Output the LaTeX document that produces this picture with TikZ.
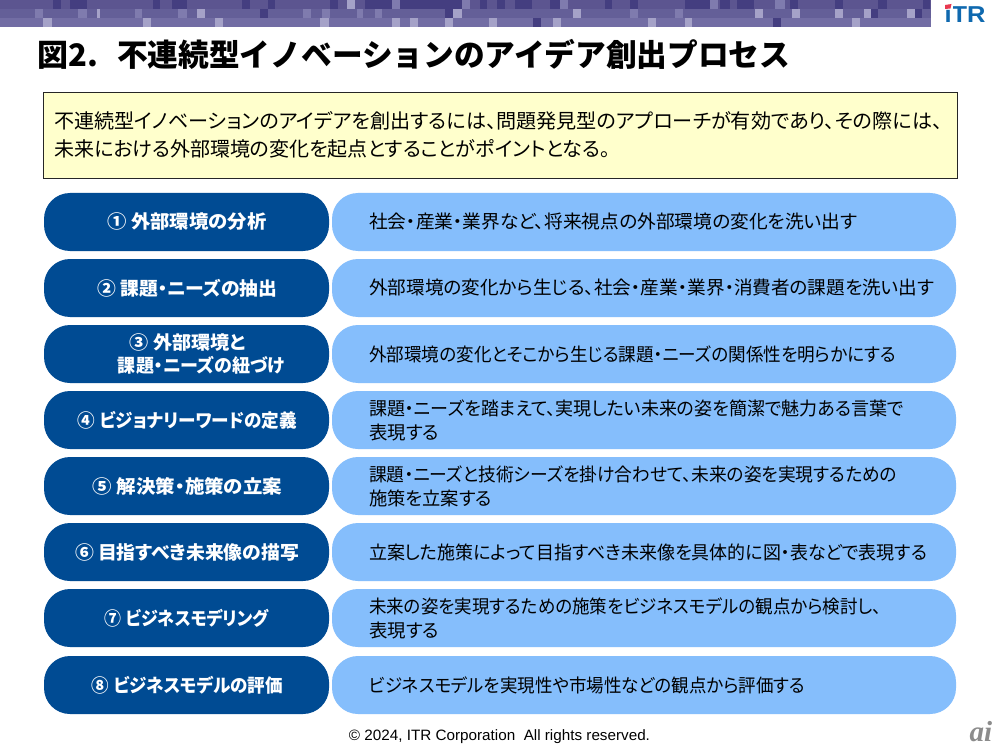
\documentclass[tikz,border=0pt]{standalone}
\usepackage{fontspec}
\usepackage{graphicx}
\setmainfont[RawFeature=+palt]{Noto Sans CJK JP}
\newfontfamily\titlefont{Noto Sans CJK JP}
\newfontfamily\latinfont{Liberation Sans}
\newfontfamily\serifont{Liberation Serif}
\newcommand{\fitw}[2]{\resizebox{#1pt}{\height}{#2}}
\definecolor{bannertop}{HTML}{5C5590}
\definecolor{bannermidrow}{HTML}{645F98}
\definecolor{bannerlow}{HTML}{726DA4}
\definecolor{bannerdark}{HTML}{443E80}
\definecolor{bannersoft}{HTML}{7F7BAE}
\definecolor{bannerlight}{HTML}{A5A2C8}
\definecolor{navy}{HTML}{004B93}
\definecolor{sky}{HTML}{85BEFC}
\definecolor{cream}{HTML}{FFFFCC}
\definecolor{itrblue}{HTML}{0F69AF}
\definecolor{itrred}{HTML}{E8384F}
\tikzset{
 leftpill/.style={fill=navy,draw=none,rounded corners=26pt},
 rightpill/.style={fill=sky,draw=none,rounded corners=26pt},
 lefttext/.style={text=white,align=left,font=\fontsize{18.5}{23.5}\selectfont\bfseries,inner sep=0pt},
 righttext/.style={text=black,align=left,anchor=west,font=\fontsize{18.5}{24}\selectfont,inner sep=0pt},
}
\begin{document}
\begin{tikzpicture}[x=1pt,y=-1pt]
\useasboundingbox (0,0) rectangle (1000,751);
\fill[white] (0,0) rectangle (1000,751);
% banner
\fill[bannertop] (0,0) rectangle (931,9);
\fill[bannermidrow] (0,9) rectangle (931,18);
\fill[bannerlow] (0,18) rectangle (931,27);
\foreach \a/\b in {53/61,70/87,153/160,172/187,242/250,268/275,330/338,365/392,400/462,480/487,497/505,515/532,550/560,605/612,630/638,685/710,720/730,737/754,790/798,835/843,878/887,923/930}{\fill[bannerdark] (\a,0) rectangle (\b,9);}
\foreach \a/\b in {347/355}{\fill[bannerlight] (\a,0) rectangle (\b,9);}
\foreach \a/\b in {392/400,462/470,560/568,710/718,775/785}{\fill[bannersoft] (\a,0) rectangle (\b,9);}
\foreach \a/\b in {35/43,78/87,135/142,178/187,303/311,322/330,357/363,375/382,630/638,675/683}{\fill[bannersoft] (\a,9) rectangle (\b,18);}
\foreach \a/\b in {260/268,445/453,870/878,915/922}{\fill[bannerdark] (\a,9) rectangle (\b,18);}
\foreach \a/\b in {97/100,197/205,453/462,573/581,755/763,792/800,835/843,864/871,907/915}{\fill[bannerlight] (\a,9) rectangle (\b,18);}
\foreach \a/\b in {43/52,143/151,215/223,320/329,392/400,410/418,445/453,489/497,553/561,648/656,685/692,852/860}{\fill[bannerlight] (\a,18) rectangle (\b,27);}
\foreach \a/\b in {533/541,773/781}{\fill[bannerdark] (\a,18) rectangle (\b,27);}
% logo
\node[inner sep=0pt,anchor=center,text=itrblue] (logo) at (965,14.5) {\latinfont\bfseries\fontsize{23}{23}\selectfont\fitw{41}{iTR}};
\fill[white] (944,3) rectangle (953,9.5);
\fill[itrred] (945,5) -- (951.5,4) -- (950.5,8.5) -- (945,9) -- cycle;
% title
\node[inner sep=0pt,anchor=west,font=\titlefont\fontsize{31}{36}\selectfont\bfseries] (title) at (37,54) {\hbox to 80pt{図2.\hfil}\fitw{673}{不連続型イノベーションのアイデア創出プロセス}};
% intro
\node[draw=black!85,line width=0.8pt,fill=cream,minimum width=914pt,minimum height=86pt,anchor=north west] (intro) at (43,92) {};
\node[inner sep=0pt,anchor=west,align=left,font=\fontsize{20}{28}\selectfont] (introtext) at (54,135) {\fitw{888}{不連続型イノベーションのアイデアを創出するには、問題発見型のアプローチが有効であり、その際には、}\\\fitw{556}{未来における外部環境の変化を起点とすることがポイントとなる。}};
% rows
\foreach \n/\y/\lx/\lt/\rt in {
a/193/187/{\fitw{159}{① 外部環境の分析}}/{\fitw{488}{社会・産業・業界など、将来視点の外部環境の変化を洗い出す}},
b/259/187.5/{\fitw{180}{② 課題・ニーズの抽出}}/{\fitw{565}{外部環境の変化から生じる、社会・産業・業界・消費者の課題を洗い出す}},
c/325/201.5/{\hspace{12pt}\fitw{116}{③ 外部環境と}\\\fitw{167}{課題・ニーズの紐づけ}}/{\fitw{527}{外部環境の変化とそこから生じる課題・ニーズの関係性を明らかにする}},
d/391/187.5/{\fitw{219}{④ ビジョナリーワードの定義}}/{\fitw{535}{課題・ニーズを踏まえて、実現したい未来の姿を簡潔で魅力ある言葉で}\\\fitw{70}{表現する}},
e/457/187.5/{\fitw{189}{⑤ 解決策・施策の立案}}/{\fitw{528}{課題・ニーズと技術シーズを掛け合わせて、未来の姿を実現するための}\\\fitw{123}{施策を立案する}},
f/523/187/{\fitw{224}{⑥ 目指すべき未来像の描写}}/{\fitw{558}{立案した施策によって目指すべき未来像を具体的に図・表などで表現する}},
g/589/187/{\fitw{164}{⑦ ビジネスモデリング}}/{\fitw{512}{未来の姿を実現するための施策をビジネスモデルの観点から検討し、}\\\fitw{70}{表現する}},
h/656/187.5/{\fitw{191}{⑧ ビジネスモデルの評価}}/{\fitw{436}{ビジネスモデルを実現性や市場性などの観点から評価する}}}{
 \fill[leftpill] (44,\y) rectangle ++(285,58);
 \fill[rightpill] (332,\y) rectangle ++(624,58);
 \node[lefttext] (l\n) at (\lx,\y+29) {\lt};
 \node[righttext] (r\n) at (369,\y+29) {\rt};
}
% footer
\node[inner sep=0pt,font=\latinfont\fontsize{15}{16}\selectfont] (foot) at (499.5,736.5) {\fitw{301}{© 2024, ITR Corporation\ \ All rights reserved.}};
\node[inner sep=0pt,text=black!45,font=\serifont\itshape\bfseries\fontsize{29}{29}\selectfont] (ai) at (981,732) {ai};
\end{tikzpicture}
\end{document}
